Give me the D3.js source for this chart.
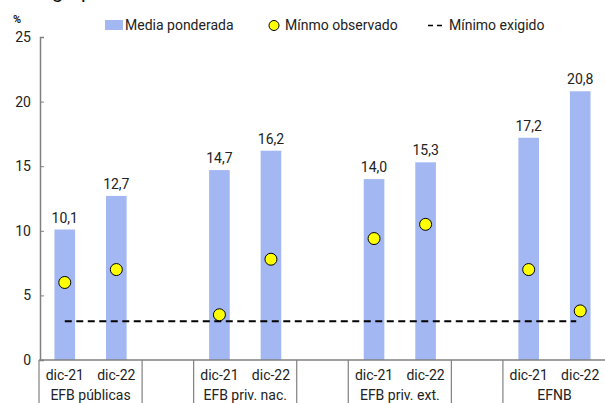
<!DOCTYPE html>
<html><head><meta charset="utf-8">
<script src="https://cdn.jsdelivr.net/npm/d3@7"></script>
<style>body{margin:0;background:#fff}svg{display:block;font-family:Roboto,"Noto Sans",sans-serif}</style>
</head><body><svg id="c" width="605" height="403"></svg>
<script>
const groups = ["EFB públicas", "EFB priv. nac.", "EFB priv. ext.", "EFNB"];
const periods = ["dic-21", "dic-22"];
const mediaPonderada = [10.1, 12.7, 14.7, 16.2, 14.0, 15.3, 17.2, 20.8];
const minimoObservado = [6.0, 7.0, 3.5, 7.8, 9.4, 10.5, 7.0, 3.8];
const minimoExigido = 3;
const yTicks = [0, 5, 10, 15, 20, 25];

const svg = d3.select("#c");
const barColor = "#a3b8f3";
const fs = 14;

const slots = [];
groups.forEach((g, gi) => {
  periods.forEach((p, pi) => slots.push({key: g + "|" + p, g, p, i: gi * 2 + pi}));
  if (gi < groups.length - 1) slots.push({key: "gap" + gi, gap: true});
});
const x = d3.scaleBand().domain(slots.map(s => s.key)).range([39, 606]).paddingInner(0.6).paddingOuter(0.3);
const y = d3.scaleLinear().domain([0, 25]).range([360, 37]);
const bars = slots.filter(s => !s.gap);

// clipped title line (only its bottom is visible in the frame)
svg.append("text").attr("x", 52).attr("y", -2).attr("font-size", 20).attr("fill", "#111")
  .text("grupo de entidades financieras");

// y axis
const yAxis = svg.append("g").attr("transform", "translate(40,0)")
  .call(d3.axisLeft(y).tickValues(yTicks).tickSize(-4).tickPadding(9).tickFormat(d3.format("d")));
yAxis.select(".domain").attr("stroke", "#808080").attr("stroke-width", 1.5);
yAxis.selectAll(".tick line").attr("stroke", "#808080").attr("stroke-width", 1);
yAxis.selectAll(".tick text").attr("font-size", fs).attr("fill", "#222").attr("font-family", "Roboto");
svg.append("text").attr("x", 17).attr("y", 23).attr("text-anchor", "middle").attr("font-size", 11)
  .attr("font-weight", "bold").attr("fill", "#222").text("%");

// bars
svg.selectAll("rect.bar").data(bars).join("rect").attr("class", "bar")
  .attr("x", d => x(d.key)).attr("width", x.bandwidth())
  .attr("y", d => y(mediaPonderada[d.i])).attr("height", d => y(0) - y(mediaPonderada[d.i]))
  .attr("fill", barColor);

// value labels
svg.selectAll("text.val").data(bars).join("text").attr("class", "val")
  .attr("x", d => x(d.key) + x.bandwidth() / 2).attr("y", d => y(mediaPonderada[d.i]) - 7)
  .attr("text-anchor", "middle").attr("font-size", fs).attr("fill", "#222")
  .text(d => d3.format(".1f")(mediaPonderada[d.i]).replace(".", ","));

// minimo exigido dashed line
const firstC = x(bars[0].key) + x.bandwidth() / 2;
const lastC = x(bars[bars.length - 1].key) + x.bandwidth() / 2;
svg.append("line").attr("x1", firstC).attr("x2", lastC - 4)
  .attr("y1", y(minimoExigido)).attr("y2", y(minimoExigido))
  .attr("stroke", "#000").attr("stroke-width", 1.8).attr("stroke-dasharray", "7,4.5");

// circles
svg.selectAll("circle.min").data(bars).join("circle").attr("class", "min")
  .attr("cx", d => x(d.key) + x.bandwidth() / 2).attr("cy", d => y(minimoObservado[d.i]))
  .attr("r", 6).attr("fill", "#ffff00").attr("stroke", "#000").attr("stroke-width", 1);

// x axis line
svg.append("line").attr("x1", 39).attr("x2", 605).attr("y1", 360).attr("y2", 360)
  .attr("stroke", "#808080").attr("stroke-width", 1.5);

// category table separators
const step = x.step();
const x0 = 39;
const seps = [0, 2, 3, 5, 6, 8, 9].map(k => x0 + k * step);
svg.selectAll("line.sep").data(seps).join("line").attr("class", "sep")
  .attr("x1", d => d).attr("x2", d => d).attr("y1", 360).attr("y2", 403)
  .attr("stroke", "#808080").attr("stroke-width", 1.2);

// period labels
svg.selectAll("text.per").data(bars).join("text").attr("class", "per")
  .attr("x", d => x(d.key) + x.bandwidth() / 2).attr("y", 380)
  .attr("text-anchor", "middle").attr("font-size", fs).attr("fill", "#222").text(d => d.p);

// group labels
svg.selectAll("text.grp").data(groups).join("text").attr("class", "grp")
  .attr("x", (g) => (x(g + "|dic-21") + x(g + "|dic-22") + x.bandwidth()) / 2).attr("y", 400)
  .attr("text-anchor", "middle").attr("font-size", fs).attr("fill", "#222").text(g => g);

// legend
const lg = svg.append("g").attr("font-size", fs).attr("fill", "#222");
lg.append("rect").attr("x", 105).attr("y", 20).attr("width", 18).attr("height", 10).attr("fill", barColor);
lg.append("text").attr("x", 125).attr("y", 30).text("Media ponderada");
lg.append("circle").attr("cx", 274).attr("cy", 25.5).attr("r", 5).attr("fill", "#ffff00").attr("stroke", "#000").attr("stroke-width", 1);
lg.append("text").attr("x", 285).attr("y", 30).text("Mínmo observado");
lg.append("line").attr("x1", 428).attr("x2", 446).attr("y1", 25.5).attr("y2", 25.5)
  .attr("stroke", "#000").attr("stroke-width", 1.5).attr("stroke-dasharray", "5,4");
lg.append("text").attr("x", 449).attr("y", 30).text("Mínimo exigido");
</script></body></html>
